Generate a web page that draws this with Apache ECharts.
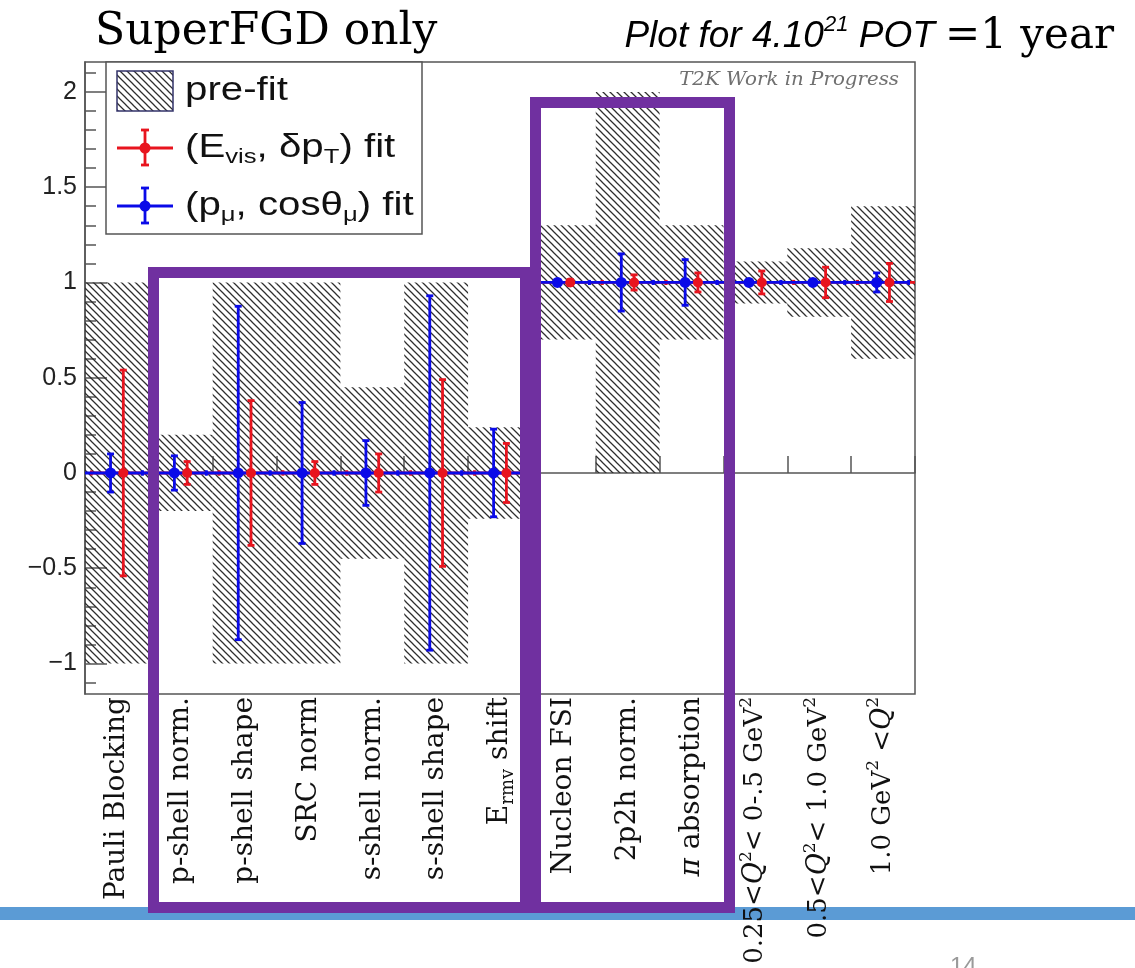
<!DOCTYPE html>
<html><head><meta charset="utf-8">
<script src="https://cdn.jsdelivr.net/npm/echarts@6/dist/echarts.min.js"></script>
<style>html,body{margin:0;padding:0;background:#fff}#c{width:1135px;height:968px}</style>
</head><body><div id="c"></div>
<script>
// ---------------- data ----------------
const categories = ['Pauli Blocking','p-shell norm.','p-shell shape','SRC norm','s-shell norm.','s-shell shape','E_rmv shift','Nucleon FSI','2p2h norm.','π absorption','0.25<Q²< 0-.5 GeV²','0.5<Q²< 1.0 GeV²','1.0 GeV² <Q²'];
const prefitCentral = [0,0,0,0,0,0,0,1,1,1,1,1,1];
const prefitError   = [1,0.2,1,1,0.45,1,0.24,0.3,1,0.3,0.11,0.18,0.4];
const evisFitCentral = [0,0,0,0,0,0,0,1,1,1,1,1,1];
const evisFitError   = [0.54,0.06,0.38,0.06,0.10,0.49,0.155,0.015,0.04,0.05,0.06,0.08,0.10];
const pmuFitCentral  = [0,0,0,0,0,0,0,1,1,1,1,1,1];
const pmuFitError    = [0.10,0.09,0.875,0.37,0.17,0.93,0.23,0.01,0.15,0.12,0.01,0.01,0.05];
const yMajorTicks = [-1,-0.5,0,0.5,1,1.5,2];
const yMinorTicks = [];
for (let k = -11; k <= 21; k++) { if (k % 5 !== 0) yMinorTicks.push(k / 10); }

// ---------------- styles ----------------
const RED = '#e8141e', BLUE = '#0a0ae8', FRAME = '#555', PURPLE = '#7030A0';

function makeHatch(size, color, lw) {
  const c = document.createElement('canvas'); c.width = size; c.height = size;
  const g = c.getContext('2d'); g.strokeStyle = color; g.lineWidth = lw;
  g.beginPath();
  g.moveTo(-1,-1); g.lineTo(size+1,size+1);
  g.moveTo(-1,size-1); g.lineTo(1,size+1);
  g.moveTo(size-1,-1); g.lineTo(size+1,1);
  g.stroke();
  return c;
}
const hatchPattern = {image: makeHatch(7, '#2e2e2e', 1.25), repeat: 'repeat'};

function fmtLabel(s) {
  if (s.includes('Q²')) {
    // Q² bin labels are set slightly smaller
    let t = '{m|' + s.replace(/GeV²/g, 'GeV}{sup|2}{m|').replace(/Q²/g, '}{q2|Q}{sup|2}{m|') + '}';
    return t.replace(/\{m\|\}/g, '');
  }
  return s.replace('E_rmv', 'E{sub|rmv}').replace('π', '{q|π}');
}

function fitSeries(central, err, color, offset, radius, part) {
  return {
    type: 'custom', clip: true, z: 2,
    data: central.map((v, i) => [i, v, v - err[i], v + err[i]]),
    encode: {x: 0, y: [1, 2, 3]},
    renderItem(params, api) {
      const i = api.value(0);
      const bw = api.size([1, 0])[0];
      const c = api.coord([i, api.value(1)]);
      const x = c[0] + offset * bw, y = c[1];
      const ls = {stroke: color, lineWidth: 2.8};
      const ch = [];
      if (part === 'h') {
        ch.push({type: 'line', shape: {x1: x - bw/2, y1: y, x2: x + bw/2, y2: y}, style: ls});
        ch.push({type: 'line', shape: {x1: x - bw/2, y1: y - 2.5, x2: x - bw/2, y2: y + 2.5}, style: ls});
        ch.push({type: 'line', shape: {x1: x + bw/2, y1: y - 2.5, x2: x + bw/2, y2: y + 2.5}, style: ls});
      } else {
        const lo = api.coord([i, api.value(2)])[1];
        const hi = api.coord([i, api.value(3)])[1];
        ch.push({type: 'line', shape: {x1: x, y1: lo, x2: x, y2: hi}, style: ls});
        ch.push({type: 'line', shape: {x1: x - 3.5, y1: lo, x2: x + 3.5, y2: lo}, style: ls});
        ch.push({type: 'line', shape: {x1: x - 3.5, y1: hi, x2: x + 3.5, y2: hi}, style: ls});
        ch.push({type: 'circle', shape: {cx: x, cy: y, r: radius}, style: {fill: color}});
      }
      return {type: 'group', children: ch};
    }
  };
}

const legendTextStyle = {fontFamily: 'Liberation Sans', fontSize: 33, fill: '#111', verticalAlign: 'middle', lineHeight: 40,
  rich: {sub: {fontFamily: 'Liberation Sans', fontSize: 21, lineHeight: 21, verticalAlign: 'bottom', fill: '#111'}}};

function legendMarker(y, color) {
  return [
    {type: 'line', shape: {x1: 117, y1: y, x2: 173, y2: y}, style: {stroke: color, lineWidth: 2.8}, z: 51},
    {type: 'line', shape: {x1: 145, y1: y - 18, x2: 145, y2: y + 17}, style: {stroke: color, lineWidth: 2.8}, z: 51},
    {type: 'line', shape: {x1: 141, y1: y - 18, x2: 149, y2: y - 18}, style: {stroke: color, lineWidth: 2.8}, z: 51},
    {type: 'line', shape: {x1: 141, y1: y + 17, x2: 149, y2: y + 17}, style: {stroke: color, lineWidth: 2.8}, z: 51},
    {type: 'circle', shape: {cx: 145, cy: y, r: 5.5}, style: {fill: color}, z: 52}
  ];
}

const chart = echarts.init(document.getElementById('c'), null, {renderer: 'canvas'});
chart.setOption({
  backgroundColor: '#fff',
  animation: false,
  grid: {left: 85, top: 62, width: 830, height: 632, outerBoundsMode: 'none', containLabel: false,
         show: true, borderColor: FRAME, borderWidth: 1.5, backgroundColor: 'transparent'},
  xAxis: {
    type: 'category', data: categories, boundaryGap: true,
    axisLine: {show: true, lineStyle: {color: FRAME, width: 1.5}},
    axisTick: {show: true, inside: true, length: 17, interval: 0, lineStyle: {color: FRAME, width: 1.5}},
    axisLabel: {
      interval: 0, rotate: 90, margin: 3, fontFamily: 'DejaVu Serif', fontSize: 28, lineHeight: 35, color: '#111',
      formatter: fmtLabel,
      rich: {
        sub: {fontFamily: 'DejaVu Serif', fontSize: 18, lineHeight: 16, verticalAlign: 'bottom', color: '#111'},
        sup: {fontFamily: 'DejaVu Serif', fontSize: 17, lineHeight: 18, verticalAlign: 'top', color: '#111'},
        q: {fontFamily: 'DejaVu Serif', fontStyle: 'italic', fontSize: 28, lineHeight: 35, color: '#111'},
        m: {fontFamily: 'DejaVu Serif', fontSize: 26, lineHeight: 35, color: '#111'},
        q2: {fontFamily: 'DejaVu Serif', fontStyle: 'italic', fontSize: 27, lineHeight: 35, color: '#111'}
      }
    },
    splitLine: {show: false}
  },
  yAxis: [{
    type: 'value', min: -1.16, max: 2.157,
    axisLine: {show: true, lineStyle: {color: FRAME, width: 1.5}},
    axisTick: {show: true, inside: true, length: 22, customValues: yMajorTicks, lineStyle: {color: FRAME, width: 1.5}},
    axisLabel: {customValues: yMajorTicks, fontFamily: 'Liberation Sans', fontSize: 25, color: '#222', margin: 8,
      formatter: v => String(v).replace('-', '\u2212')},
    splitLine: {show: false}
  }, {
    type: 'value', min: -1.16, max: 2.157, position: 'left',
    axisLine: {show: false},
    axisTick: {show: true, inside: true, length: 11, customValues: yMinorTicks, lineStyle: {color: FRAME, width: 1.5}},
    axisLabel: {show: false},
    splitLine: {show: false}
  }],
  series: [
    {
      type: 'custom', name: 'pre-fit', clip: true, z: 1,
      data: prefitCentral.map((v, i) => [i, v - prefitError[i], v + prefitError[i]]),
      encode: {x: 0, y: [1, 2]},
      renderItem(params, api) {
        const i = api.value(0);
        const lo = api.coord([i, api.value(1)]);
        const hi = api.coord([i, api.value(2)]);
        const bw = api.size([1, 0])[0];
        return {type: 'rect', shape: {x: lo[0] - bw/2, y: hi[1], width: bw, height: lo[1] - hi[1]},
                style: {fill: hatchPattern}};
      }
    },
    fitSeries(evisFitCentral, evisFitError, RED, 0.1, 5, 'h'),
    fitSeries(pmuFitCentral, pmuFitError, BLUE, -0.1, 5.5, 'h'),
    fitSeries(pmuFitCentral, pmuFitError, BLUE, -0.1, 5.5, 'v'),
    fitSeries(evisFitCentral, evisFitError, RED, 0.1, 5, 'v')
  ],
  graphic: {elements: [
    // slide bar
    {type: 'rect', shape: {x: 0, y: 907, width: 1135, height: 13}, style: {fill: '#5B9BD5'}, z: -1, silent: true},
    // titles
    {type: 'text', x: 95, y: 33, style: {text: 'SuperFGD only', fontFamily: 'DejaVu Serif', fontSize: 44, fill: '#000', verticalAlign: 'middle'}, z: 60},
    {type: 'text', x: 1114, y: 37, style: {
      text: '{p|Plot for 4.10}{ps|21}{p| POT }{y|=1 year}', align: 'right', verticalAlign: 'middle',
      rich: {
        p: {fontFamily: 'Liberation Sans', fontStyle: 'italic', fontSize: 37, lineHeight: 46, fill: '#000'},
        ps: {fontFamily: 'Liberation Sans', fontStyle: 'italic', fontSize: 22, lineHeight: 28, verticalAlign: 'top', fill: '#000'},
        y: {fontFamily: 'DejaVu Serif', fontSize: 42, lineHeight: 46, fill: '#000'}
      }}, z: 60},
    {type: 'text', x: 899, y: 80, scaleX: 1.1, style: {text: 'T2K Work in Progress', fontFamily: 'DejaVu Serif', fontStyle: 'italic', fontSize: 18, fill: '#707070', align: 'right', verticalAlign: 'middle'}, z: 60},
    {type: 'text', x: 950, y: 955, style: {text: '14', fontFamily: 'Liberation Sans', fontSize: 24, fill: '#9a9a9a', verticalAlign: 'top'}, z: 60},
    // legend
    {type: 'rect', shape: {x: 106, y: 62, width: 316, height: 172}, style: {fill: '#fff', stroke: FRAME, lineWidth: 1.5}, z: 50},
    {type: 'rect', shape: {x: 117, y: 71, width: 56, height: 40}, style: {fill: hatchPattern, stroke: '#33336a', lineWidth: 1.5}, z: 51},
    {type: 'text', x: 185, y: 91, scaleX: 1.22, style: Object.assign({text: 'pre-fit'}, legendTextStyle), z: 51},
    ...legendMarker(148, RED),
    {type: 'text', x: 185, y: 148, scaleX: 1.22, style: Object.assign({text: '(E{sub|vis}, δp{sub|T}) fit'}, legendTextStyle), z: 51},
    ...legendMarker(206, BLUE),
    {type: 'text', x: 185, y: 206, scaleX: 1.22, style: Object.assign({text: '(p{sub|μ}, cosθ{sub|μ}) fit'}, legendTextStyle), z: 51},
    // purple highlight boxes
    {type: 'rect', shape: {x: 153.5, y: 272.5, width: 372, height: 635}, style: {fill: null, stroke: PURPLE, lineWidth: 11}, z: 100},
    {type: 'rect', shape: {x: 535.5, y: 102.5, width: 194, height: 805}, style: {fill: null, stroke: PURPLE, lineWidth: 11}, z: 100}
  ]}
});
</script>
</body></html>
